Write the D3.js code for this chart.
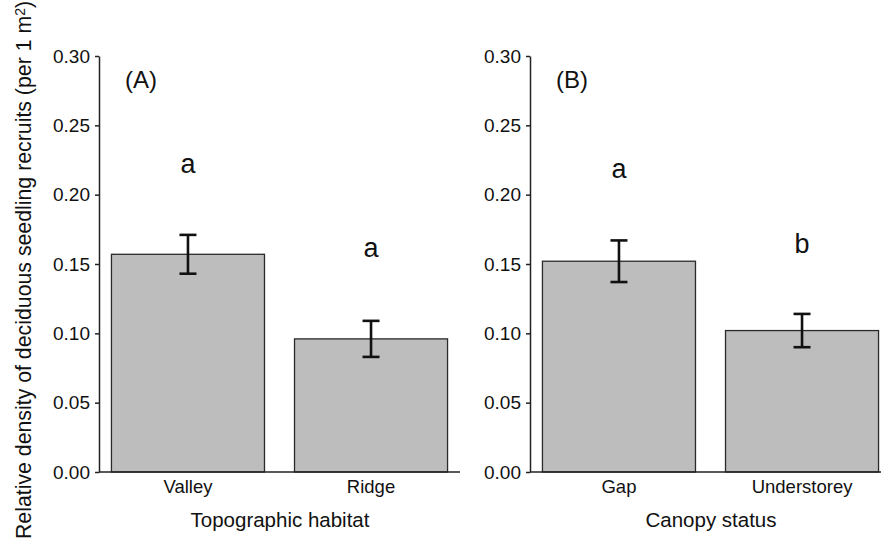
<!DOCTYPE html>
<html>
<head>
<meta charset="utf-8">
<script src="https://cdn.jsdelivr.net/npm/d3@7"></script>
<style>
  body { margin: 0; background: #fff; }
  svg { display: block; font-family: "Liberation Sans", Arial, sans-serif; }
</style>
</head>
<body>
<script>
// Data
var habitatCats = ["Valley", "Ridge"];
var habitatMeans = [0.157, 0.096];
var habitatSE = [0.014, 0.013];
var habitatLetters = ["a", "a"];

var canopyCats = ["Gap", "Understorey"];
var canopyMeans = [0.152, 0.102];
var canopySE = [0.015, 0.012];
var canopyLetters = ["a", "b"];

var yTicks = [0, 0.05, 0.10, 0.15, 0.20, 0.25, 0.30];

// Layout
var width = 881, height = 541;
var plotTop = 56, plotBottom = 472, panelW = 361;

var svg = d3.select("body").append("svg")
  .attr("width", width)
  .attr("height", height);

var y = d3.scaleLinear().domain([0, 0.30]).range([plotBottom, plotTop]);

// Y axis title, shared
var yTitle = svg.append("text")
  .attr("transform", "translate(31," + 270 + ") rotate(-90)")
  .attr("text-anchor", "middle")
  .style("font-size", "21.3px")
  .attr("fill", "#111");
yTitle.append("tspan").text("Relative density of deciduous seedling recruits (per 1 m");
yTitle.append("tspan").attr("dy", "-0.45em").style("font-size", "14px").text("2");
yTitle.append("tspan").attr("dy", "0.3em").text(")");

// Draw one panel
function drawPanel(x0, cats, means, se, letters, tag, title, letterY) {
  var g = svg.append("g");
  var x = d3.scaleBand().domain(cats)
    .range([x0, x0 + panelW])
    .paddingInner(0.164)
    .paddingOuter(0.068)
    .align(0.5);

  var data = cats.map(function (c, i) {
    return { cat: c, mean: means[i], se: se[i], letter: letters[i], ly: letterY[i] };
  });

  // bars
  g.selectAll(".bar").data(data).enter().append("rect")
    .attr("x", function (d) { return x(d.cat); })
    .attr("y", function (d) { return y(d.mean); })
    .attr("width", x.bandwidth())
    .attr("height", function (d) { return y(0) - y(d.mean); })
    .attr("fill", "#bdbdbd")
    .attr("stroke", "#2a2a2a")
    .attr("stroke-width", 1.3);

  // error bars
  var cx = function (d) { return x(d.cat) + x.bandwidth() / 2; };
  var eb = g.selectAll(".err").data(data).enter().append("g")
    .attr("stroke", "#111").attr("stroke-width", 2.6);
  eb.append("line")
    .attr("x1", cx).attr("x2", cx)
    .attr("y1", function (d) { return y(d.mean + d.se); })
    .attr("y2", function (d) { return y(d.mean - d.se); });
  eb.append("line")
    .attr("x1", function (d) { return cx(d) - 8.5; })
    .attr("x2", function (d) { return cx(d) + 8.5; })
    .attr("y1", function (d) { return y(d.mean + d.se); })
    .attr("y2", function (d) { return y(d.mean + d.se); });
  eb.append("line")
    .attr("x1", function (d) { return cx(d) - 8.5; })
    .attr("x2", function (d) { return cx(d) + 8.5; })
    .attr("y1", function (d) { return y(d.mean - d.se); })
    .attr("y2", function (d) { return y(d.mean - d.se); });

  // significance letters
  g.selectAll(".letter").data(data).enter().append("text")
    .attr("x", cx)
    .attr("y", function (d) { return d.ly; })
    .attr("text-anchor", "middle")
    .style("font-size", "27px")
    .attr("fill", "#111")
    .text(function (d) { return d.letter; });

  // y axis
  var ya = g.append("g")
    .attr("transform", "translate(" + x0 + ",0)")
    .call(d3.axisLeft(y).tickValues(yTicks).tickFormat(d3.format(".2f"))
      .tickSize(4).tickSizeOuter(0).tickPadding(5));
  ya.selectAll("text").style("font-size", "19px").attr("fill", "#111");

  // x axis
  var xa = g.append("g")
    .attr("transform", "translate(0," + plotBottom + ")")
    .call(d3.axisBottom(x).tickSize(0).tickSizeOuter(0).tickPadding(8));
  xa.selectAll("text").style("font-size", "18.5px").attr("fill", "#111");
  xa.selectAll("path, line").attr("stroke", "#222").attr("stroke-width", 1.5);
  ya.selectAll("path, line").attr("stroke", "#222").attr("stroke-width", 1.5);
  xa.select(".domain").attr("d", "M" + x0 + ",0H" + (x0 + panelW));

  // panel tag
  g.append("text")
    .attr("x", x0 + 26)
    .attr("y", 88)
    .style("font-size", "24px")
    .attr("fill", "#111")
    .text(tag);

  // x axis title
  g.append("text")
    .attr("x", x0 + 181)
    .attr("y", 527)
    .attr("text-anchor", "middle")
    .style("font-size", "20.5px")
    .attr("fill", "#111")
    .text(title);
}

drawPanel(99, habitatCats, habitatMeans, habitatSE, habitatLetters, "(A)", "Topographic habitat", [173, 257]);
drawPanel(530, canopyCats, canopyMeans, canopySE, canopyLetters, "(B)", "Canopy status", [178, 253]);
</script>
</body>
</html>
